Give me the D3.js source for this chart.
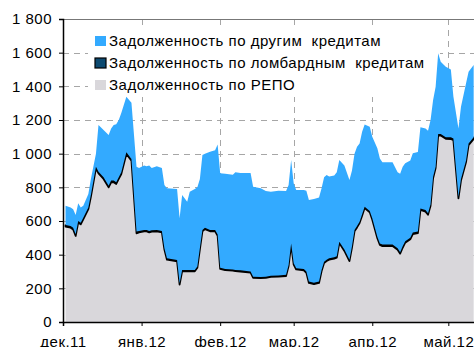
<!DOCTYPE html>
<html>
<head>
<meta charset="utf-8">
<script src="https://cdn.jsdelivr.net/npm/d3@7"></script>
<style>
  html, body { margin: 0; padding: 0; background: #fff; overflow: hidden; }
  text { font-family: "Liberation Sans", Arial, sans-serif; fill: #000; letter-spacing: 0.5px; }
</style>
</head>
<body>
<svg id="chart" width="474" height="347"></svg>
<script>
// Observation dates
const dates = [
  "2011-12-02","2011-12-04","2011-12-05","2011-12-06","2011-12-07","2011-12-08","2011-12-09","2011-12-11",
  "2011-12-12","2011-12-14","2011-12-15","2011-12-17","2011-12-19","2011-12-20","2011-12-21","2011-12-22",
  "2011-12-23","2011-12-24","2011-12-26","2011-12-28","2011-12-30",
  "2011-12-31","2012-01-02","2012-01-03","2012-01-04","2012-01-05","2012-01-07","2012-01-09","2012-01-10",
  "2012-01-11","2012-01-15","2012-01-16","2012-01-17","2012-01-19","2012-01-20","2012-01-22","2012-01-23",
  "2012-01-24","2012-01-25","2012-01-26","2012-01-28","2012-01-30","2012-01-31",
  "2012-02-01","2012-02-03","2012-02-06","2012-02-07","2012-02-09","2012-02-13","2012-02-14","2012-02-17",
  "2012-02-19","2012-02-21","2012-02-24","2012-02-27","2012-02-28","2012-02-29",
  "2012-03-01","2012-03-02","2012-03-05","2012-03-06","2012-03-07","2012-03-09","2012-03-11","2012-03-12",
  "2012-03-13","2012-03-14","2012-03-15","2012-03-17","2012-03-18","2012-03-19","2012-03-21","2012-03-23",
  "2012-03-24","2012-03-25","2012-03-26","2012-03-27","2012-03-28","2012-03-29","2012-03-31",
  "2012-04-01","2012-04-03","2012-04-04","2012-04-05","2012-04-09","2012-04-11","2012-04-12","2012-04-13",
  "2012-04-14","2012-04-16","2012-04-17","2012-04-19","2012-04-20","2012-04-22","2012-04-23","2012-04-24",
  "2012-04-25","2012-04-26","2012-04-27","2012-04-28","2012-04-30",
  "2012-05-02","2012-05-03","2012-05-05","2012-05-06","2012-05-08","2012-05-09","2012-05-11"
];

// Debt on REPO operations, bn rub.
const repo = [
  566,560,550,511,590,580,610,670,744,913,883,850,800,830,830,820,850,879,998,958,527,
  532,538,538,532,537,538,532,430,370,360,222,301,301,301,301,322,431,539,552,539,539,512,
  316,308,305,302,300,293,262,261,262,268,269,273,332,460,
  341,312,307,292,232,225,232,301,350,362,370,377,382,469,422,362,442,539,562,588,632,677,652,
  607,498,458,451,451,429,406,441,471,491,522,528,666,656,637,691,854,914,1108,1108,1088,
  1087,1080,734,840,950,1051,1087
];

// Debt on Lombard loans, bn rub.
const lombard = [
  10,10,10,10,10,10,10,10,10,10,10,10,10,10,10,10,10,10,10,10,10,
  8,8,8,8,8,8,8,8,8,8,8,8,8,8,8,8,8,8,8,8,8,8,
  7,7,7,7,7,7,7,7,7,7,7,7,7,7,
  8,8,8,8,8,8,8,8,8,8,8,8,8,8,8,8,8,8,8,8,8,8,8,
  9,9,9,9,9,9,9,9,9,9,9,9,9,9,9,9,9,9,9,9,9,
  10,10,10,10,10,10,10
];

// Debt on other loans, bn rub.
const other = [
  115,110,110,115,105,90,70,80,96,77,277,280,301,310,330,345,340,352,330,335,386,
  375,384,379,390,370,379,375,376,416,422,386,445,406,465,481,470,411,445,440,465,473,535,
  560,565,563,580,578,585,535,527,509,499,504,498,475,495,
  475,464,469,480,485,497,500,485,502,503,487,485,500,485,500,474,450,453,471,464,490,489,500,
  485,525,505,489,489,451,465,473,463,460,471,473,482,485,490,500,456,475,479,429,420,
  403,249,406,429,458,426,430
];

const seriesKeys = ["repo", "lombard", "other"];
const seriesNames = {
  other: "Задолженность по другим  кредитам",
  lombard: "Задолженность по ломбардным  кредитам",
  repo: "Задолженность по РЕПО"
};
const seriesColors = { repo: "#d9d7db", lombard: "#0d4a70", other: "#33aaff" };
const legendOrder = ["other", "lombard", "repo"];

const monthTicks = ["2011-12-01","2012-01-01","2012-02-01","2012-03-01","2012-04-01","2012-05-01"];
const monthLabels = ["дек.11","янв.12","фев.12","мар.12","апр.12","май.12"];
const yTicks = [0, 200, 400, 600, 800, 1000, 1200, 1400, 1600, 1800];

const parse = d3.utcParse("%Y-%m-%d");
const rows = dates.map((d, i) => ({
  date: parse(d), repo: repo[i], lombard: lombard[i], other: other[i]
}));

const svg = d3.select("#chart");
const plotLeft = 63, plotTop = 19, plotBottom = 322, plotRight = 476.2;

const x = d3.scaleUtc()
  .domain([parse("2011-12-01"), parse("2012-05-12")])
  .range([plotLeft, plotRight]);
const y = d3.scaleLinear().domain([0, 1800]).range([plotBottom, plotTop]);

const fmt = d3.formatLocale({ decimal: ",", thousands: " ", grouping: [3], currency: ["", ""] }).format(",d");

// horizontal grid
svg.append("g").selectAll("line")
  .data(yTicks.filter(v => v > 0 && v < 1800))
  .join("line")
  .attr("x1", plotLeft).attr("x2", 474)
  .attr("y1", d => Math.round(y(d)) + 0.5).attr("y2", d => Math.round(y(d)) + 0.5)
  .attr("stroke", "#a6a6a6").attr("stroke-width", 1).attr("stroke-dasharray", "6,5");

// vertical grid at month starts
svg.append("g").selectAll("line")
  .data(monthTicks.slice(1).map(parse))
  .join("line")
  .attr("x1", d => Math.round(x(d)) + 0.5).attr("x2", d => Math.round(x(d)) + 0.5)
  .attr("y1", plotTop).attr("y2", plotBottom)
  .attr("stroke", "#a6a6a6").attr("stroke-width", 1).attr("stroke-dasharray", "6,5");

// legend backdrop
svg.append("rect")
  .attr("x", 88).attr("y", 27).attr("width", 352).attr("height", 70)
  .attr("fill", "#fff");

// stacked areas
const stack = d3.stack().keys(seriesKeys);
const layers = stack(rows);
const area = d3.area()
  .x(d => x(d.data.date))
  .y0(d => y(d[0]))
  .y1(d => y(d[1]));

svg.append("g").selectAll("path")
  .data(layers)
  .join("path")
  .attr("d", area)
  .attr("fill", d => seriesColors[d.key])
  .attr("stroke", d => d.key === "lombard" ? "#000" : "none")
  .attr("stroke-width", d => d.key === "lombard" ? 1.8 : 0)
  .attr("stroke-linejoin", "round");

// frame: top border
svg.append("line")
  .attr("x1", plotLeft).attr("x2", 474).attr("y1", plotTop + 0.5).attr("y2", plotTop + 0.5)
  .attr("stroke", "#777").attr("stroke-width", 1.2);

// y axis
const yAxis = d3.axisLeft(y).tickValues(yTicks).tickSize(4).tickPadding(7).tickFormat(fmt);
const gy = svg.append("g").attr("transform", `translate(${plotLeft},0)`).call(yAxis);
gy.select(".domain").attr("stroke", "#000").attr("stroke-width", 1.5);
gy.selectAll(".tick line").attr("stroke", "#000");
gy.selectAll(".tick text")
  .style("font-family", '"Liberation Sans", Arial, sans-serif')
  .style("font-size", "15px").attr("fill", "#000");

// x axis
const xAxis = d3.axisBottom(x)
  .tickValues(monthTicks.map(parse))
  .tickSize(4).tickPadding(10)
  .tickFormat((d, i) => monthLabels[i]);
const gx = svg.append("g").attr("transform", `translate(0,${plotBottom})`).call(xAxis);
gx.select(".domain").attr("stroke", "#000").attr("stroke-width", 1.5);
gx.selectAll(".tick line").attr("stroke", "#000");
gx.selectAll(".tick text")
  .style("font-family", '"Liberation Sans", Arial, sans-serif')
  .style("font-size", "15px").attr("fill", "#000");

// legend
const legend = svg.append("g");
legendOrder.forEach((k, i) => {
  const base = 46 + i * 22;
  legend.append("rect")
    .attr("x", 95).attr("y", base - 10).attr("width", 11).attr("height", 10)
    .attr("fill", seriesColors[k])
    .attr("stroke", k === "lombard" ? "#000" : "none")
    .attr("stroke-width", k === "lombard" ? 1.2 : 0);
  legend.append("text")
    .attr("x", 109).attr("y", base)
    .style("font-size", "15px")
    .style("white-space", "pre")
    .text(seriesNames[k]);
});
</script>
</body>
</html>
